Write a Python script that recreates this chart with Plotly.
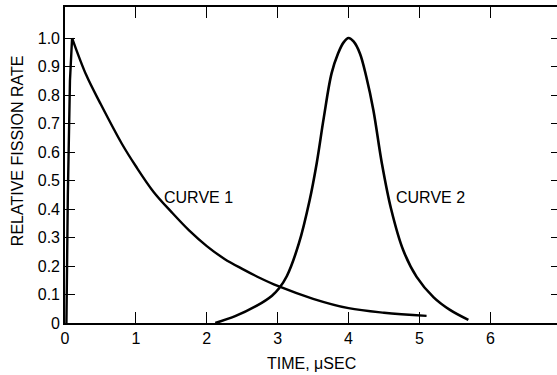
import plotly.graph_objects as go

# Curve 1: fast rise, then exponential-like decay
t_curve1 = [0.02, 0.04, 0.07, 0.10, 0.30, 0.50, 0.80, 1.00, 1.25, 1.50, 1.75,
            2.00, 2.25, 2.50, 2.75, 3.00, 3.50, 4.00, 4.50, 5.10]
rate_curve1 = [0.0, 0.45, 0.85, 1.0, 0.87, 0.77, 0.63, 0.55, 0.46, 0.39, 0.325,
               0.27, 0.225, 0.19, 0.158, 0.13, 0.085, 0.052, 0.036, 0.025]

# Curve 2: delayed pulse peaking at 4 microseconds
t_curve2 = [2.12, 2.40, 2.70, 2.92, 3.02, 3.13, 3.30, 3.45, 3.55, 3.65, 3.76,
            3.85, 3.93, 4.00, 4.07, 4.16, 4.25, 4.35, 4.47, 4.60, 4.77, 4.96,
            5.20, 5.43, 5.69]
rate_curve2 = [0.0, 0.024, 0.06, 0.096, 0.122, 0.165, 0.28, 0.43, 0.56, 0.72,
               0.876, 0.945, 0.985, 1.0, 0.988, 0.946, 0.864, 0.747, 0.56, 0.40,
               0.256, 0.162, 0.09, 0.046, 0.011]

x_ticks = [0, 1, 2, 3, 4, 5, 6]
x_tick_text = ["0", "1", "2", "3", "4", "5", "6"]
y_ticks = [0, 0.1, 0.2, 0.3, 0.4, 0.5, 0.6, 0.7, 0.8, 0.9, 1.0]
y_tick_text = ["0", "0.1", "0.2", "0.3", "0.4", "0.5", "0.6", "0.7", "0.8", "0.9", "1.0"]

X_RANGE = [0, 6.94]
Y_RANGE = [0, 1.109]
FONT = dict(family="Liberation Sans, Arial, sans-serif", size=16, color="black")

# index of the peak of curve 1: the rise is drawn straight, the decay smoothed
peak = rate_curve1.index(max(rate_curve1))

fig = go.Figure()
fig.add_trace(go.Scatter(x=t_curve1[:peak + 1], y=rate_curve1[:peak + 1], mode="lines",
                         line=dict(color="black", width=2.4, shape="linear"),
                         showlegend=False, hoverinfo="skip"))
fig.add_trace(go.Scatter(x=t_curve1[peak:], y=rate_curve1[peak:], mode="lines",
                         line=dict(color="black", width=2.4, shape="spline", smoothing=1.0),
                         showlegend=False, hoverinfo="skip"))
fig.add_trace(go.Scatter(x=t_curve2, y=rate_curve2, mode="lines",
                         line=dict(color="black", width=2.6, shape="spline", smoothing=1.0),
                         showlegend=False, hoverinfo="skip"))

# Invisible trace carrying the right-hand tick marks
fig.add_trace(go.Scatter(x=[None], y=[None], yaxis="y2", showlegend=False, hoverinfo="skip"))

fig.update_layout(
    width=557, height=375,
    margin=dict(l=65, r=0, t=7, b=52),
    paper_bgcolor="white", plot_bgcolor="white",
    font=FONT,
    xaxis=dict(range=X_RANGE, tickvals=x_ticks, ticktext=x_tick_text,
               ticks="inside", ticklen=11, tickwidth=1.4, tickcolor="black",
               showline=True, linecolor="black", linewidth=1.6, mirror="ticks",
               showgrid=False, zeroline=False, tickfont=FONT),
    yaxis=dict(range=Y_RANGE, tickvals=y_ticks, ticktext=y_tick_text,
               ticks="inside", ticklen=10, tickwidth=1.4, tickcolor="black",
               showline=True, linecolor="black", linewidth=1.6, mirror=False,
               showgrid=False, zeroline=False, tickfont=FONT),
    yaxis2=dict(range=Y_RANGE, overlaying="y", side="right",
                tickvals=y_ticks[1:], showticklabels=False,
                ticks="inside", ticklen=6, tickwidth=1.4, tickcolor="black",
                showline=False, showgrid=False, zeroline=False),
    annotations=[
        dict(text="RELATIVE FISSION RATE", xref="paper", yref="paper",
             x=-0.0976, y=0.547, textangle=-90, showarrow=False,
             xanchor="center", yanchor="middle", font=FONT),
        dict(text="TIME, μSEC", xref="paper", yref="paper",
             x=0.502, y=-0.1266, showarrow=False,
             xanchor="center", yanchor="middle", font=FONT),
        dict(text="CURVE 1", x=1.88, y=0.44, showarrow=False,
             xanchor="center", yanchor="middle", font=FONT),
        dict(text="CURVE 2", x=5.15, y=0.44, showarrow=False,
             xanchor="center", yanchor="middle", font=FONT),
    ],
)

fig.write_html("out.html")
